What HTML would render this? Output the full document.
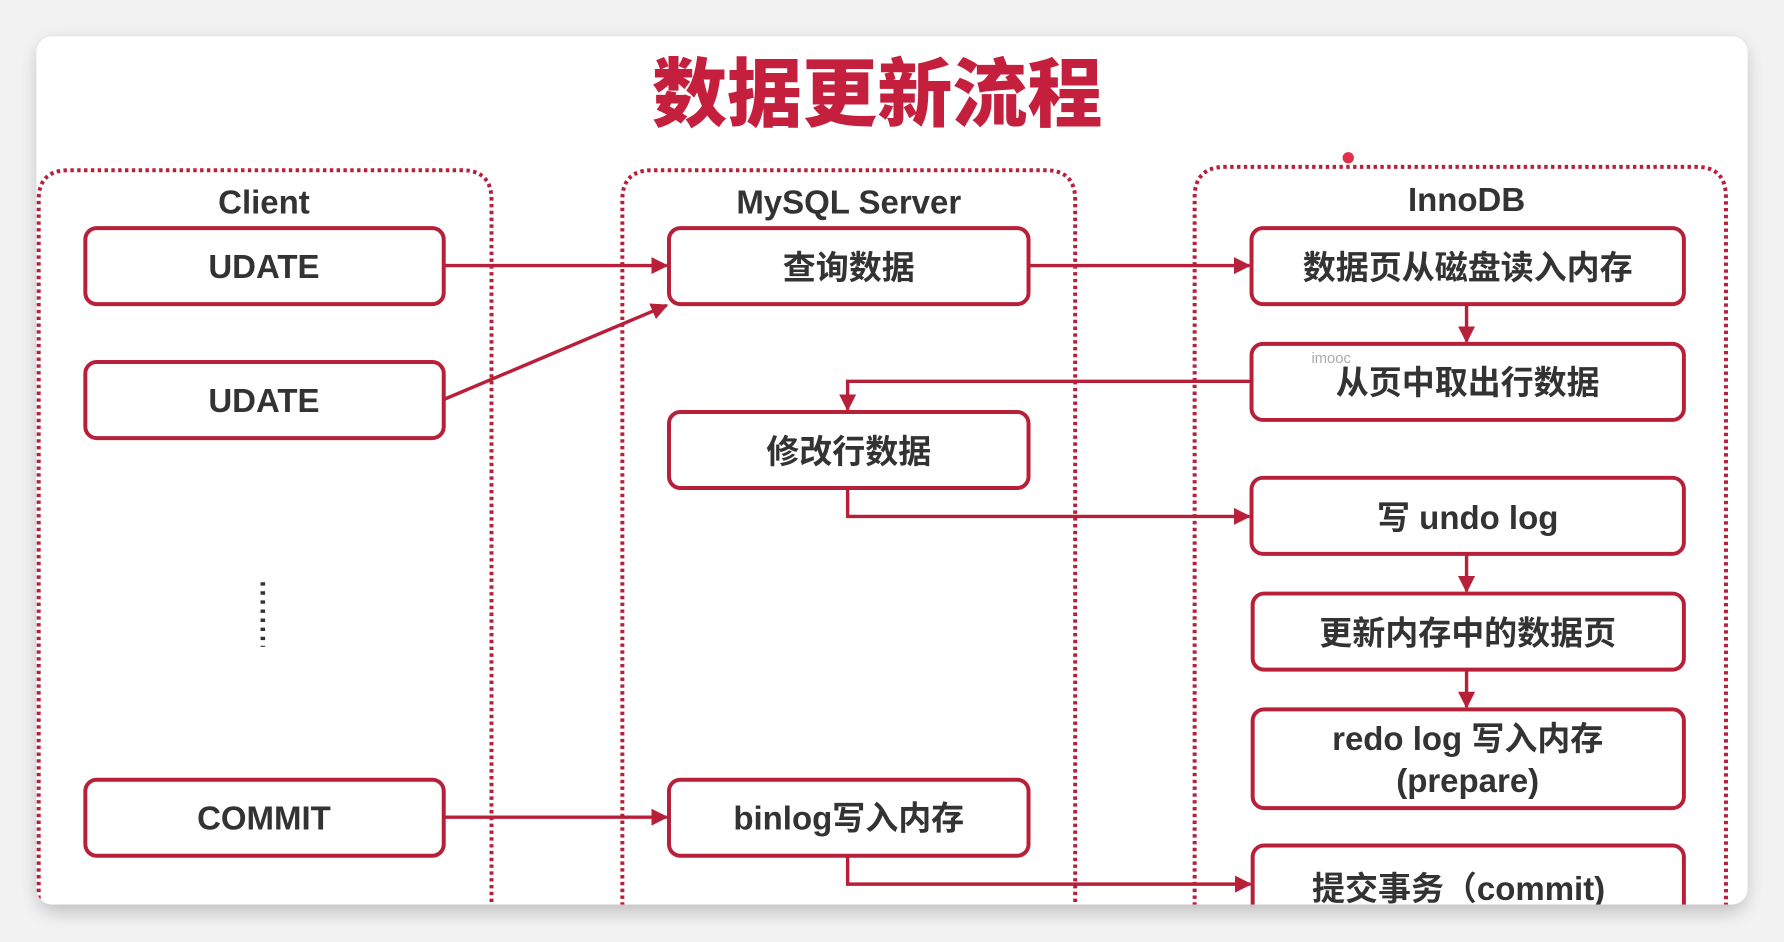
<!DOCTYPE html>
<html><head><meta charset="utf-8"><style>
html,body{margin:0;padding:0;background:#f2f2f2;}
svg{display:block;}
text{font-family:"Liberation Sans","Noto Sans CJK SC",sans-serif;font-weight:bold;fill:#333;text-anchor:middle;}
</style></head><body>
<svg width="1784" height="942" viewBox="0 0 1568 830" preserveAspectRatio="none" xmlns="http://www.w3.org/2000/svg">
<defs>
<filter id="sh" x="-5%" y="-5%" width="110%" height="115%"><feGaussianBlur stdDeviation="8"/></filter>
<clipPath id="card"><rect x="32" y="32" width="1504" height="765" rx="14"/></clipPath>
<marker id="ar" viewBox="0 0 10 10" refX="9" refY="5" markerWidth="5" markerHeight="5" orient="auto"><path d="M0,0 L10,5 L0,10 z" fill="#b8203a"/></marker>
</defs>
<rect x="0" y="0" width="1568" height="830" fill="#f2f2f2"/>
<rect x="34" y="38" width="1500" height="765" rx="14" fill="#000" opacity="0.22" filter="url(#sh)"/>
<rect x="32" y="32" width="1504" height="765" rx="14" fill="#fff"/>
<g clip-path="url(#card)">
<text x="771" y="106" style="font-size:66px;fill:#c4203d;font-family:'Noto Sans CJK SC',sans-serif;font-weight:900">数据更新流程</text>
<g fill="none" stroke="#b8203a" stroke-width="3.5" stroke-dasharray="3 3">
<path d="M34,840 V176 Q34,150 60,150 H406 Q432,150 432,176 V840"/>
<path d="M547,840 V176 Q547,150 573,150 H919 Q945,150 945,176 V840"/>
<path d="M1050,840 V174 Q1050,147 1077,147 H1491 Q1517,147 1517,174 V840"/>
</g>
<text x="232" y="188" style="font-size:29px">Client</text>
<text x="746" y="188" style="font-size:29px">MySQL Server</text>
<text x="1289" y="186" style="font-size:29px">InnoDB</text>
<g fill="#fff" stroke="#b8203a" stroke-width="3.5">
<rect x="75" y="201" width="315" height="67" rx="10"/>
<rect x="75" y="319" width="315" height="67" rx="10"/>
<rect x="75" y="687" width="315" height="67" rx="10"/>
<rect x="588" y="201" width="316" height="67" rx="10"/>
<rect x="588" y="363" width="316" height="67" rx="10"/>
<rect x="588" y="687" width="316" height="67" rx="10"/>
<rect x="1100" y="201" width="380" height="67" rx="10"/>
<rect x="1100" y="303" width="380" height="67" rx="10"/>
<rect x="1100" y="421" width="380" height="67" rx="10"/>
<rect x="1101" y="523" width="379" height="67" rx="10"/>
<rect x="1101" y="625" width="379" height="87" rx="10"/>
<rect x="1101" y="745" width="379" height="80" rx="10"/>
</g>
<g style="font-size:29px">
<text x="232" y="245">UDATE</text>
<text x="232" y="363">UDATE</text>
<text x="232" y="731">COMMIT</text>
<text x="746" y="246">查询数据</text>
<text x="746" y="408">修改行数据</text>
<text x="746" y="731">binlog写入内存</text>
<text x="1290" y="246">数据页从磁盘读入内存</text>
<text x="1290" y="347">从页中取出行数据</text>
<text x="1290" y="466">写 undo log</text>
<text x="1290" y="568">更新内存中的数据页</text>
<text x="1290" y="661">redo log 写入内存</text>
<text x="1290" y="698">(prepare)</text>
<text x="1282" y="793">提交事务（commit)</text>
</g>
<text x="1170" y="320" style="font-size:13px;fill:#aaa;font-weight:normal">imooc</text>
<g fill="none" stroke="#b8203a" stroke-width="3" marker-end="url(#ar)">
<path d="M390,234 H586"/>
<path d="M390,352 L586,269"/>
<path d="M904,234 H1098"/>
<path d="M1289,268 V301"/>
<path d="M1100,336 H745 V361"/>
<path d="M745,430 V455 H1098"/>
<path d="M1289,488 V521"/>
<path d="M1289,590 V623"/>
<path d="M390,720 H586"/>
<path d="M745,754 V779 H1099"/>
</g>
<line x1="231" y1="513" x2="231" y2="570" stroke="#333" stroke-width="4" stroke-dasharray="3 5"/>
<circle cx="1185" cy="139" r="5" fill="#e0304a"/>
</g>
</svg>
</body></html>
